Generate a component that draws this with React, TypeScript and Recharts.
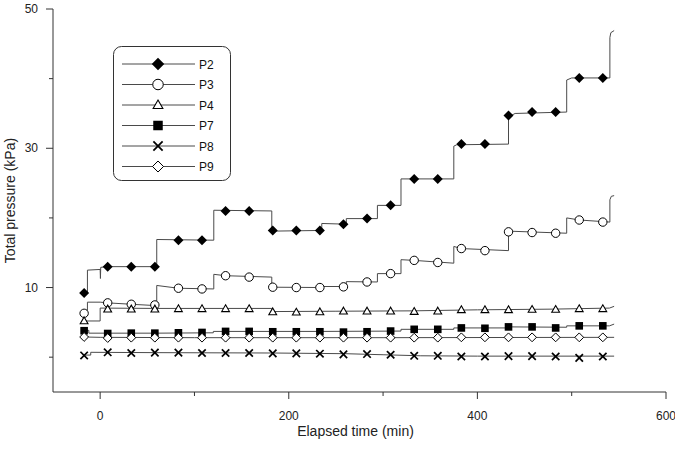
import React from 'react';
import { ComposedChart, Line, Scatter, XAxis, YAxis, Legend, Label } from 'recharts';

// marker times (min) shared by all sensors
const markTimes = [-17, 8, 33, 58, 83, 108, 133, 158, 183, 208, 233, 258, 283, 308, 333, 358, 383, 408, 433, 458, 483, 508, 533];

// marker values (kPa)
const p2Marks = [9.2, 13.0, 13.0, 13.0, 16.8, 16.8, 21.0, 21.0, 18.2, 18.2, 18.2, 19.1, 19.9, 21.8, 25.6, 25.6, 30.6, 30.6, 34.7, 35.2, 35.2, 40.1, 40.1];
const p3Marks = [6.3, 7.8, 7.6, 7.5, 9.9, 9.8, 11.7, 11.5, 10.05, 10.0, 10.0, 10.1, 10.8, 12.0, 13.9, 13.6, 15.6, 15.3, 18.0, 17.9, 17.8, 19.7, 19.4];
const p4Marks = [5.2, 6.9, 6.9, 6.9, 6.95, 6.95, 6.95, 6.95, 6.5, 6.45, 6.5, 6.6, 6.6, 6.6, 6.55, 6.6, 6.8, 6.8, 6.8, 6.85, 6.85, 6.95, 6.95];
const p7Marks = [3.8, 3.4, 3.45, 3.45, 3.5, 3.55, 3.7, 3.7, 3.65, 3.65, 3.65, 3.6, 3.65, 3.75, 4.0, 4.0, 4.2, 4.15, 4.35, 4.35, 4.2, 4.5, 4.5];
const p8Marks = [0.25, 0.7, 0.6, 0.65, 0.65, 0.6, 0.6, 0.6, 0.55, 0.55, 0.5, 0.4, 0.45, 0.35, 0.2, 0.2, 0.1, 0.1, 0.15, 0.15, 0.1, -0.1, 0.1];
const p9Marks = [2.9, 2.75, 2.8, 2.8, 2.8, 2.8, 2.8, 2.8, 2.8, 2.8, 2.8, 2.8, 2.8, 2.8, 2.8, 2.8, 2.85, 2.85, 2.85, 2.85, 2.85, 2.85, 2.85];

// continuous pressure traces [time, value]
const p2Trace = [[-17, 9.2], [-13.5, 9.2], [-13.5, 12.5], [0, 12.6], [0.3, 11.3], [0.6, 12.9], [8, 13.0], [60, 13.0], [60, 16.9], [120.5, 16.8], [120.5, 21.1], [182, 21.0], [182, 18.1], [235, 18.2], [235, 19.2], [261, 19.1], [261, 19.9], [294, 19.9], [294, 21.8], [319, 21.8], [319, 25.6], [375, 25.6], [375, 30.3], [378, 30.5], [433, 30.6], [433, 34.5], [440, 35.0], [494.7, 35.2], [494.7, 39.8], [500, 40.1], [540.5, 40.1], [540.5, 45.9], [541.5, 46.6], [545, 46.9]];
const p3Trace = [[-17, 6.3], [-13.5, 6.3], [-13.5, 7.9], [0, 7.9], [8, 7.8], [33, 7.6], [60, 7.4], [60, 10.3], [83, 9.9], [120.5, 9.8], [120.5, 11.9], [133, 11.7], [182, 11.5], [182, 10.05], [235, 10.0], [235, 10.15], [261, 10.15], [261, 10.85], [294, 10.8], [294, 12.0], [319, 12.0], [319, 14.0], [333, 13.9], [375, 13.5], [375, 15.9], [383, 15.6], [433, 15.3], [433, 18.1], [494.7, 17.8], [494.7, 20.0], [508, 19.7], [540.5, 19.4], [540.5, 22.6], [542, 23.1], [545, 23.2]];
const p4Trace = [[-17, 5.2], [0, 5.2], [0, 7.05], [60, 7.0], [182, 7.0], [182, 6.55], [250, 6.6], [330, 6.65], [400, 6.8], [480, 6.9], [540, 7.05], [545, 7.3]];
const p7Trace = [[-17, 3.85], [-12, 3.85], [-12, 3.45], [60, 3.45], [120, 3.5], [120, 3.7], [235, 3.7], [319, 3.75], [319, 4.0], [375, 4.0], [375, 4.2], [433, 4.2], [433, 4.35], [494.7, 4.3], [494.7, 4.5], [540, 4.5], [545, 4.75]];
const p8Trace = [[-17, 0.3], [-10, 0.3], [-10, 0.7], [60, 0.65], [183, 0.6], [260, 0.5], [300, 0.35], [340, 0.2], [400, 0.15], [545, 0.15]];
const p9Trace = [[-17, 2.9], [0, 2.85], [100, 2.8], [300, 2.8], [545, 2.85]];

const series = [
  { name: 'P2', kind: 'diamondFilled', marks: p2Marks, trace: p2Trace },
  { name: 'P3', kind: 'circle', marks: p3Marks, trace: p3Trace },
  { name: 'P4', kind: 'triangle', marks: p4Marks, trace: p4Trace },
  { name: 'P7', kind: 'square', marks: p7Marks, trace: p7Trace },
  { name: 'P8', kind: 'x', marks: p8Marks, trace: p8Trace },
  { name: 'P9', kind: 'diamondOpen', marks: p9Marks, trace: p9Trace },
];

const LINE = '#4a4a4a';

function Marker({ kind, cx, cy, s = 1 }: { kind: string; cx: number; cy: number; s?: number }) {
  if (kind === 'diamondFilled') {
    const d = 5 * s;
    return <polygon points={`${cx},${cy - d} ${cx + d},${cy} ${cx},${cy + d} ${cx - d},${cy}`} fill="#000" />;
  }
  if (kind === 'circle') return <circle cx={cx} cy={cy} r={4.2 * s} fill="#fff" stroke="#000" strokeWidth={1} />;
  if (kind === 'triangle') {
    const w = 3.9 * s;
    return <polygon points={`${cx},${cy - 4 * s} ${cx + w},${cy + 2.8 * s} ${cx - w},${cy + 2.8 * s}`} fill="#fff" stroke="#000" strokeWidth={1.1} />;
  }
  if (kind === 'square') {
    const h = 3.8 * s;
    return <rect x={cx - h} y={cy - h} width={2 * h} height={2 * h} fill="#000" />;
  }
  if (kind === 'x') {
    const h = 3.7 * s;
    return (
      <g stroke="#000" strokeWidth={1.7}>
        <line x1={cx - h} y1={cy - h} x2={cx + h} y2={cy + h} />
        <line x1={cx - h} y1={cy + h} x2={cx + h} y2={cy - h} />
      </g>
    );
  }
  const d = 4.4 * s;
  return <polygon points={`${cx},${cy - d} ${cx + d},${cy} ${cx},${cy + d} ${cx - d},${cy}`} fill="#fff" stroke="#000" strokeWidth={1} />;
}

const XTick = (props: any) => {
  const { x, y, payload } = props;
  const major = payload.value % 200 === 0;
  return (
    <g>
      <line x1={x} y1={y} x2={x} y2={y + (major ? 7 : 4)} stroke="#333" />
      {major && (
        <text x={x} y={y + 28} textAnchor="middle" fontSize={12} fill="#222">
          {payload.value}
        </text>
      )}
    </g>
  );
};

const YTick = (props: any) => {
  const { x, y, payload } = props;
  const major = (payload.value - 10) % 20 === 0;
  return (
    <g>
      <line x1={x - (major ? 7 : 4)} y1={y} x2={x} y2={y} stroke="#333" />
      {major && (
        <text x={x - 15} y={y + 4} textAnchor="end" fontSize={12} fill="#222">
          {payload.value}
        </text>
      )}
    </g>
  );
};

const LegendBox = () => (
  <svg width={118} height={135} style={{ display: 'block' }}>
    <rect x={0.5} y={0.5} width={117} height={134} rx={8} fill="#fff" stroke="#333" />
    {series.map((s, i) => {
      const cy = 18 + i * 20.5;
      return (
        <g key={s.name}>
          <line x1={9} y1={cy} x2={82} y2={cy} stroke={LINE} />
          <Marker kind={s.kind} cx={45} cy={cy} s={1.25} />
          <text x={86} y={cy + 4.5} fontSize={12} fill="#111">
            {s.name}
          </text>
        </g>
      );
    })}
  </svg>
);

export default function App() {
  return (
    <div style={{ position: 'absolute', left: 0, top: 0, fontFamily: '"Liberation Sans", Arial, sans-serif' }}>
      <ComposedChart width={675} height={462} margin={{ top: 9, right: 9, bottom: 0, left: 0 }}>
        <XAxis
          type="number"
          dataKey="t"
          domain={[-50, 600]}
          ticks={[0, 100, 200, 300, 400, 500, 600]}
          interval={0}
          tick={<XTick />}
          tickLine={false}
          tickSize={0}
          tickMargin={0}
          axisLine={{ stroke: '#333' }}
          height={70}
        >
          <Label value="Elapsed time (min)" position="insideBottom" offset={26} dx={-4} style={{ fontSize: 14, fill: '#222' }} />
        </XAxis>
        <YAxis
          type="number"
          dataKey="v"
          domain={[-5, 50]}
          ticks={[0, 10, 20, 30, 40, 50]}
          interval={0}
          tick={<YTick />}
          tickLine={false}
          tickSize={0}
          tickMargin={0}
          axisLine={{ stroke: '#333' }}
          width={53}
        >
          <Label value="Total pressure (kPa)" angle={-90} position="insideLeft" offset={10} style={{ textAnchor: 'middle', fontSize: 14, fill: '#222' }} />
        </YAxis>
        <Legend
          layout="vertical"
          align="center"
          verticalAlign="middle"
          content={<LegendBox />}
          wrapperStyle={{ left: 113, top: 46, width: 118, height: 135 }}
        />
        {series.map((s) => (
          <Line
            key={s.name + '-line'}
            data={s.trace.map(([t, v]) => ({ t, v }))}
            dataKey="v"
            type="linear"
            dot={false}
            stroke={LINE}
            strokeWidth={1}
            isAnimationActive={false}
            legendType="none"
          />
        ))}
        {series.map((s) => (
          <Scatter
            key={s.name + '-marks'}
            name={s.name}
            data={markTimes.map((t, i) => ({ t, v: s.marks[i] }))}
            dataKey="v"
            shape={(p: any) => <Marker kind={s.kind} cx={p.cx} cy={p.cy} />}
            isAnimationActive={false}
          />
        ))}
      </ComposedChart>
    </div>
  );
}
